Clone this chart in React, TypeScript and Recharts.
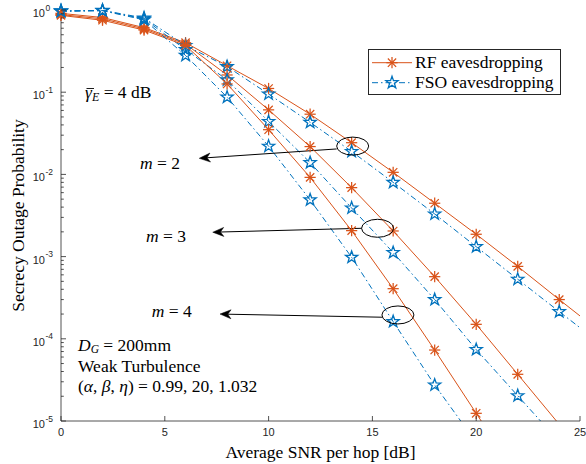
import React from 'react';
import {
  ComposedChart,
  Line,
  Scatter,
  XAxis,
  YAxis,
  ReferenceDot,
  ReferenceLine,
  Legend,
} from 'recharts';

// ---------------- data ----------------
const snr = [0, 2, 4, 6, 8, 10, 12, 14, 16, 18, 20, 22, 24, 26];

const rfM2 = [0.91, 0.81, 0.61, 0.4, 0.21, 0.111, 0.054, 0.0243, 0.0106, 0.00446, 0.00187, 7.6e-4, 3.0e-4, 1.2e-4];
const fsoM2 = [0.98, 0.99, 0.8, 0.37, 0.205, 0.095, 0.043, 0.019, 0.008, 0.0033, 0.00132, 5.3e-4, 2.14e-4, 8.7e-5];
const rfM3 = [0.88, 0.78, 0.59, 0.385, 0.162, 0.061, 0.0218, 0.0069, 0.00205, 5.7e-4, 1.5e-4, 3.7e-5, 9.1e-6, null];
const fsoM3 = [0.97, 0.985, 0.78, 0.33, 0.141, 0.044, 0.0139, 0.0039, 0.00112, 3.0e-4, 7.4e-5, 2.03e-5, 5.6e-6, null];
const rfM4 = [0.86, 0.75, 0.57, 0.37, 0.126, 0.035, 0.0092, 0.00207, 4.07e-4, 7.3e-5, 1.24e-5, 2.1e-6, null, null];
const fsoM4 = [0.96, 0.98, 0.76, 0.28, 0.087, 0.022, 0.0049, 9.8e-4, 1.62e-4, 2.74e-5, 5.5e-6, null, null, null];

const xTicks = [0, 5, 10, 15, 20, 25];
const yDecades = [-5, -4, -3, -2, -1];
const yMinorMult = [2, 3, 4, 5, 6, 7, 8, 9];

// annotations (data coordinates)
const ellipseCenters = [
  { x: 14.05, y: 0.0221 },
  { x: 15.25, y: 0.00221 },
  { x: 16.23, y: 1.95e-4 },
];
const arrowStarts = [
  { x: 13.28, y: 0.0204 },
  { x: 14.48, y: 0.00221 },
  { x: 15.48, y: 1.83e-4 },
];
const arrowTips = [
  { x: 6.66, y: 0.0157 },
  { x: 7.31, y: 0.00198 },
  { x: 7.66, y: 2.0e-4 },
];

// ---------------- layout / style ----------------
const W = 586;
const H = 464;
const MARGIN = { top: 10, right: 6, bottom: 0, left: 0 };
const Y_AXIS_W = 61;
const X_AXIS_H = 43;
const PL = MARGIN.left + Y_AXIS_W;
const PR = W - MARGIN.right;
const PT = MARGIN.top;
const PB = H - MARGIN.bottom - X_AXIS_H;

const RF_COLOR = '#D95319';
const FSO_COLOR = '#0072BD';
const AXIS = '#262626';
const SERIF = "'Liberation Serif', 'Times New Roman', serif";
const SANS = "'Liberation Sans', Arial, sans-serif";
const DASHDOT = '6 3 1.5 3';

const yTicks: number[] = [];
yDecades.forEach((e) => {
  yTicks.push(Number(Math.pow(10, e).toPrecision(6)));
  yMinorMult.forEach((m) => yTicks.push(Number((m * Math.pow(10, e)).toPrecision(6))));
});
yTicks.push(1);

const lineData = snr.map((x, i) => ({
  x,
  rf2: rfM2[i],
  fso2: fsoM2[i],
  rf3: rfM3[i],
  fso3: fsoM3[i],
  rf4: rfM4[i],
  fso4: fsoM4[i],
}));

const markerPoints = (arr: (number | null)[]) =>
  snr
    .map((x, i) => ({ x, y: arr[i] }))
    .filter((p) => p.y != null && p.x <= 25 && (p.y as number) >= 1e-5);

// ---------------- markers ----------------
const Asterisk = ({ cx, cy }: { cx: number; cy: number }) => {
  const r = 5.6;
  const d = r * 0.74;
  return (
    <g stroke={RF_COLOR} strokeWidth={1.25} fill="none">
      <line x1={cx - r} x2={cx + r} y1={cy} y2={cy} />
      <line x1={cx} x2={cx} y1={cy - r} y2={cy + r} />
      <line x1={cx - d} x2={cx + d} y1={cy - d} y2={cy + d} />
      <line x1={cx - d} x2={cx + d} y1={cy + d} y2={cy - d} />
    </g>
  );
};

const Pentagram = ({ cx, cy }: { cx: number; cy: number }) => {
  const R = 6.4;
  const r = R * 0.4;
  const pts: string[] = [];
  for (let k = 0; k < 10; k++) {
    const ang = -Math.PI / 2 + (k * Math.PI) / 5;
    const rr = k % 2 === 0 ? R : r;
    pts.push(`${(cx + rr * Math.cos(ang)).toFixed(2)},${(cy + rr * Math.sin(ang)).toFixed(2)}`);
  }
  return <polygon points={pts.join(' ')} fill="none" stroke={FSO_COLOR} strokeWidth={1.3} strokeLinejoin="miter" />;
};

const asteriskShape = (p: any) => <Asterisk cx={p.cx} cy={p.cy} />;
const pentagramShape = (p: any) => <Pentagram cx={p.cx} cy={p.cy} />;

// ---------------- ticks ----------------
const isMajor = (v: number) => {
  const e = Math.log10(v);
  return Math.abs(e - Math.round(e)) < 1e-6;
};

const XTickBottom = (props: any) => {
  const { x, payload } = props;
  return (
    <g>
      <line x1={x} x2={x} y1={PB} y2={PB - 5} stroke={AXIS} strokeWidth={0.8} />
      <text x={x} y={PB + 15.3} textAnchor="middle" fontFamily={SANS} fontSize={11} fill={AXIS}>
        {payload.value}
      </text>
    </g>
  );
};

const XTickTop = (props: any) => {
  const { x } = props;
  return <line x1={x} x2={x} y1={PT} y2={PT + 5} stroke={AXIS} strokeWidth={0.8} />;
};

const YTickLeft = (props: any) => {
  const { y, payload } = props;
  const v = payload.value as number;
  const major = isMajor(v);
  const len = major ? 5 : 2.8;
  const e = Math.round(Math.log10(v));
  return (
    <g>
      <line x1={PL} x2={PL + len} y1={y} y2={y} stroke={AXIS} strokeWidth={0.8} />
      {major && (
        <g fontFamily={SANS} fill={AXIS}>
          <text x={PL - 16} y={y + 7} textAnchor="end" fontSize={11}>
            10
          </text>
          <text x={PL - 15.5} y={y + 0.5} textAnchor="start" fontSize={8.5}>
            {String(e)}
          </text>
        </g>
      )}
    </g>
  );
};

const YTickRight = (props: any) => {
  const { y, payload } = props;
  const major = isMajor(payload.value as number);
  const len = major ? 5 : 2.8;
  return <line x1={PR} x2={PR - len} y1={y} y2={y} stroke={AXIS} strokeWidth={0.8} />;
};

// ---------------- annotations ----------------
const EllipseShape = (p: any) => (
  <ellipse cx={p.cx} cy={p.cy} rx={16} ry={9} fill="none" stroke="#000" strokeWidth={1} />
);

const ArrowShape = (p: any) => {
  const { x1, y1, x2, y2 } = p;
  const dx = x2 - x1;
  const dy = y2 - y1;
  const len = Math.sqrt(dx * dx + dy * dy) || 1;
  const ux = dx / len;
  const uy = dy / len;
  const nx = -uy;
  const ny = ux;
  const L = 11;
  const HW = 4.5;
  const bx = x2 - L * ux;
  const by = y2 - L * uy;
  const notchX = x2 - L * 0.7 * ux;
  const notchY = y2 - L * 0.7 * uy;
  const pts = [
    `${x2},${y2}`,
    `${bx + HW * nx},${by + HW * ny}`,
    `${notchX},${notchY}`,
    `${bx - HW * nx},${by - HW * ny}`,
  ].join(' ');
  return (
    <g>
      <line x1={x1} y1={y1} x2={notchX} y2={notchY} stroke="#000" strokeWidth={1} />
      <polygon points={pts} fill="#000" stroke="#000" strokeWidth={0.5} />
    </g>
  );
};

// ---------------- legend ----------------
const LegendBox = () => (
  <svg width={193} height={46} style={{ display: 'block' }}>
    <rect x={0.5} y={0.5} width={192} height={45} fill="#fff" stroke={AXIS} strokeWidth={1} />
    <line x1={4} x2={44} y1={13.7} y2={13.7} stroke={RF_COLOR} strokeWidth={1} />
    <Asterisk cx={24} cy={13.7} />
    <text x={47} y={19.3} fontFamily={SERIF} fontSize={17.5} fill="#000">
      RF eavesdropping
    </text>
    <line x1={4} x2={44} y1={33.7} y2={33.7} stroke={FSO_COLOR} strokeWidth={1} strokeDasharray={DASHDOT} />
    <Pentagram cx={24} cy={33.7} />
    <text x={47} y={39.3} fontFamily={SERIF} fontSize={17.5} fill="#000">
      FSO eavesdropping
    </text>
  </svg>
);

const series = [
  { key: 'rf2', arr: rfM2, rf: true },
  { key: 'fso2', arr: fsoM2, rf: false },
  { key: 'rf3', arr: rfM3, rf: true },
  { key: 'fso3', arr: fsoM3, rf: false },
  { key: 'rf4', arr: rfM4, rf: true },
  { key: 'fso4', arr: fsoM4, rf: false },
];

export default function App() {
  return (
    <div style={{ position: 'absolute', left: 0, top: 0, width: W, height: H, background: '#fff' }}>
      <ComposedChart width={W} height={H} data={lineData} margin={MARGIN}>
        <XAxis
          xAxisId="main"
          dataKey="x"
          type="number"
          domain={[0, 25]}
          allowDataOverflow
          ticks={xTicks}
          interval={0}
          height={X_AXIS_H}
          tickLine={false}
          tick={XTickBottom}
          axisLine={{ stroke: AXIS, strokeWidth: 0.8 }}
        />
        <XAxis
          xAxisId="top"
          dataKey="x"
          type="number"
          orientation="top"
          domain={[0, 25]}
          ticks={xTicks}
          interval={0}
          height={0}
          tickLine={false}
          tick={XTickTop}
          axisLine={{ stroke: AXIS, strokeWidth: 0.8 }}
        />
        <YAxis
          yAxisId="main"
          type="number"
          scale="log"
          domain={[1e-5, 1]}
          allowDataOverflow
          ticks={yTicks}
          interval={0}
          width={Y_AXIS_W}
          tickLine={false}
          tick={YTickLeft}
          axisLine={{ stroke: AXIS, strokeWidth: 0.8 }}
        />
        <YAxis
          yAxisId="right"
          type="number"
          orientation="right"
          scale="log"
          domain={[1e-5, 1]}
          ticks={yTicks}
          interval={0}
          width={0}
          tickLine={false}
          tick={YTickRight}
          axisLine={{ stroke: AXIS, strokeWidth: 0.8 }}
        />

        {series.map((s) => (
          <Line
            key={s.key}
            xAxisId="main"
            yAxisId="main"
            dataKey={s.key}
            type="linear"
            stroke={s.rf ? RF_COLOR : FSO_COLOR}
            strokeWidth={1}
            strokeDasharray={s.rf ? undefined : DASHDOT}
            dot={false}
            activeDot={false}
            isAnimationActive={false}
            connectNulls={false}
            legendType="none"
          />
        ))}

        {series.map((s) => (
          <Scatter
            key={'m' + s.key}
            xAxisId="top"
            yAxisId="right"
            data={markerPoints(s.arr)}
            dataKey="y"
            shape={s.rf ? asteriskShape : pentagramShape}
            isAnimationActive={false}
            legendType="none"
          />
        ))}

        {ellipseCenters.map((c, i) => (
          <ReferenceDot
            key={'e' + i}
            xAxisId="main"
            yAxisId="main"
            x={c.x}
            y={c.y}
            r={9}
            shape={EllipseShape}
          />
        ))}
        {arrowStarts.map((s, i) => (
          <ReferenceLine
            key={'a' + i}
            xAxisId="main"
            yAxisId="main"
            segment={[s, arrowTips[i]]}
            shape={ArrowShape}
          />
        ))}

        <Legend
          layout="vertical"
          align="center"
          verticalAlign="middle"
          content={() => <LegendBox />}
          wrapperStyle={{ left: 368, top: 49, width: 193, height: 46, right: 'auto', bottom: 'auto', lineHeight: 0 }}
        />
      </ComposedChart>

      <svg
        width={W}
        height={H}
        style={{ position: 'absolute', left: 0, top: 0, pointerEvents: 'none' }}
        fontFamily={SERIF}
        fill="#000"
      >
        {/* axis labels */}
        <text x={(PL + PR) / 2} y={457.5} textAnchor="middle" fontSize={17.5}>
          Average SNR per hop [dB]
        </text>
        <text transform={`translate(23.5, ${(PT + PB) / 2}) rotate(-90)`} textAnchor="middle" fontSize={17.5}>
          Secrecy Outage Probability
        </text>

        {/* gamma_E */}
        <text x={85} y={97.5} fontSize={17.5}>
          <tspan fontStyle="italic">γ</tspan>
          <tspan fontStyle="italic" fontSize={12} dy={3}>E</tspan>
          <tspan dy={-3}> = 4 dB</tspan>
        </text>
        <line x1={86.5} x2={94} y1={88.5} y2={88.5} stroke="#000" strokeWidth={0.9} />

        {/* m labels */}
        <text x={140} y={168.5} fontSize={17.5}>
          <tspan fontStyle="italic">m</tspan> = 2
        </text>
        <text x={146} y={241.5} fontSize={17.5}>
          <tspan fontStyle="italic">m</tspan> = 3
        </text>
        <text x={151.7} y={317} fontSize={17.5}>
          <tspan fontStyle="italic">m</tspan> = 4
        </text>

        {/* parameters block */}
        <text x={78} y={350.7} fontSize={17.5}>
          <tspan fontStyle="italic">D</tspan>
          <tspan fontStyle="italic" fontSize={11.5} dy={2.5}>G</tspan>
          <tspan dy={-2.5}> = 200mm</tspan>
        </text>
        <text x={78} y={371.5} fontSize={17.5}>
          Weak Turbulence
        </text>
        <text x={78} y={392} fontSize={17.5}>
          (<tspan fontStyle="italic">α</tspan>, <tspan fontStyle="italic">β</tspan>, <tspan fontStyle="italic">η</tspan>) = 0.99, 20, 1.032
        </text>
      </svg>
    </div>
  );
}
